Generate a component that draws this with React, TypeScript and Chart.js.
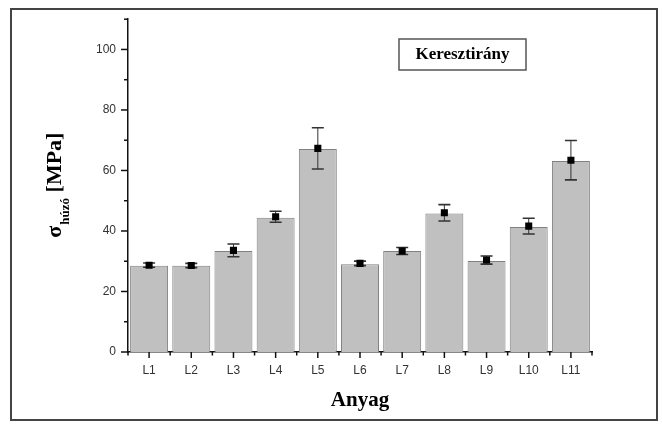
import React, { useEffect, useRef } from 'react';
import { Chart, registerables } from 'chart.js';

Chart.register(...registerables);

const categories = ['L1', 'L2', 'L3', 'L4', 'L5', 'L6', 'L7', 'L8', 'L9', 'L10', 'L11'];
const barValues = [28.5, 28.5, 33.4, 44.4, 67.1, 29.0, 33.4, 45.8, 30.1, 41.3, 63.1];
const meanValues = [28.7, 28.6, 33.6, 44.7, 67.3, 29.3, 33.4, 46.0, 30.4, 41.6, 63.4];
const errorValues = [0.7, 0.7, 2.1, 1.8, 6.8, 0.75, 1.15, 2.7, 1.35, 2.6, 6.5];
const yTickLabels = ['0', '20', '40', '60', '80', '100'];
const legendText = 'Keresztirány';
const xTitle = 'Anyag';
const yTitleMain = 'σ';
const yTitleSub = 'húzó';
const yTitleUnit = ' [MPa]';

const SERIF = '"Liberation Serif", "Times New Roman", serif';
const SANS = '"Liberation Sans", Arial, sans-serif';

const decorPlugin = {
  id: 'decor',
  beforeDraw(chart: any) {
    const ctx = chart.ctx;
    ctx.save();
    ctx.fillStyle = '#ffffff';
    ctx.fillRect(0, 0, chart.width, chart.height);
    ctx.strokeStyle = '#444444';
    ctx.lineWidth = 2;
    ctx.strokeRect(11, 9, 646, 411);
    ctx.restore();
  },
  afterDatasetDraw(chart: any, args: any) {
    if (args.index !== 0) return;
    const ctx = chart.ctx;
    const xs = chart.scales.x;
    const ys = chart.scales.y;
    ctx.save();
    for (let i = 0; i < categories.length; i++) {
      const cx = xs.getPixelForValue(i);
      const yHi = ys.getPixelForValue(meanValues[i] + errorValues[i]);
      const yLo = ys.getPixelForValue(meanValues[i] - errorValues[i]);
      ctx.strokeStyle = '#333333';
      ctx.lineWidth = 1;
      ctx.beginPath();
      ctx.moveTo(cx, yHi);
      ctx.lineTo(cx, yLo);
      ctx.stroke();
      ctx.lineWidth = 1.6;
      ctx.beginPath();
      ctx.moveTo(cx - 6, yHi);
      ctx.lineTo(cx + 6, yHi);
      ctx.moveTo(cx - 6, yLo);
      ctx.lineTo(cx + 6, yLo);
      ctx.stroke();
    }
    ctx.restore();
  },
  afterDraw(chart: any) {
    const ctx = chart.ctx;
    const xs = chart.scales.x;
    const ys = chart.scales.y;
    const area = chart.chartArea;
    ctx.save();
    ctx.strokeStyle = '#111111';
    ctx.lineWidth = 1.5;
    // y ticks
    for (let v = 0; v <= 110; v += 10) {
      const y = ys.getPixelForValue(v);
      const len = v % 20 === 0 ? 7 : 4;
      ctx.beginPath();
      ctx.moveTo(area.left - len, y);
      ctx.lineTo(area.left, y);
      ctx.stroke();
    }
    // x ticks
    for (let i = 0; i < categories.length; i++) {
      const cx = xs.getPixelForValue(i);
      ctx.beginPath();
      ctx.moveTo(cx, area.bottom);
      ctx.lineTo(cx, area.bottom + 6);
      ctx.stroke();
    }
    for (let i = 0; i <= categories.length; i++) {
      const bx = xs.getPixelForValue(i - 0.5);
      ctx.beginPath();
      ctx.moveTo(bx, area.bottom);
      ctx.lineTo(bx, area.bottom + 3.5);
      ctx.stroke();
    }
    // x title
    ctx.fillStyle = '#000000';
    ctx.font = 'bold 21px ' + SERIF;
    ctx.textAlign = 'center';
    ctx.textBaseline = 'alphabetic';
    ctx.fillText(xTitle, (area.left + area.right) / 2, 406);
    // y title
    ctx.save();
    ctx.translate(61, (area.top + area.bottom) / 2);
    ctx.rotate(-Math.PI / 2);
    ctx.textAlign = 'left';
    ctx.font = 'bold 22px ' + SERIF;
    const w1 = ctx.measureText(yTitleMain).width;
    const w3 = ctx.measureText(yTitleUnit).width;
    ctx.font = 'bold 13px ' + SERIF;
    const w2 = ctx.measureText(yTitleSub).width;
    const start = -(w1 + w2 + w3) / 2;
    ctx.font = 'bold 22px ' + SERIF;
    ctx.fillText(yTitleMain, start, 0);
    ctx.font = 'bold 13px ' + SERIF;
    ctx.fillText(yTitleSub, start + w1 + 1, 8);
    ctx.font = 'bold 22px ' + SERIF;
    ctx.fillText(yTitleUnit, start + w1 + w2 + 1, 0);
    ctx.restore();
    // legend box
    ctx.strokeStyle = '#555555';
    ctx.lineWidth = 1.5;
    ctx.strokeRect(399, 39, 127, 31);
    ctx.fillStyle = '#000000';
    ctx.font = 'bold 17px ' + SERIF;
    ctx.textAlign = 'center';
    ctx.textBaseline = 'middle';
    ctx.fillText(legendText, 462.5, 55);
    ctx.restore();
  },
};

export default function App() {
  const canvasRef = useRef<HTMLCanvasElement | null>(null);

  useEffect(() => {
    if (!canvasRef.current) return;
    const chart = new Chart(canvasRef.current, {
      type: 'bar',
      data: {
        labels: categories,
        datasets: [
          {
            type: 'bar',
            data: barValues,
            backgroundColor: '#c0c0c0',
            borderColor: '#808080',
            borderWidth: 1,
            barPercentage: 0.9,
            categoryPercentage: 1,
            order: 2,
          } as any,
          {
            type: 'line',
            data: meanValues,
            showLine: false,
            pointStyle: 'rect',
            pointRadius: 5,
            pointHoverRadius: 5,
            backgroundColor: '#000000',
            borderColor: '#000000',
            borderWidth: 0,
            order: 1,
          } as any,
        ],
      },
      options: {
        responsive: false,
        animation: false,
        events: [],
        layout: { padding: { left: 0, top: 19, right: 70, bottom: 0 } },
        plugins: { legend: { display: false }, tooltip: { enabled: false } },
        scales: {
          x: {
            grid: { display: false, drawTicks: false },
            border: { display: true, color: '#111111', width: 1.5 },
            ticks: { color: '#333333', font: { family: SANS, size: 12 }, padding: 11 },
            afterFit: (scale: any) => {
              scale.height = 429 - 352;
            },
          },
          y: {
            min: 0,
            max: 110,
            grid: { display: false, drawTicks: false },
            border: { display: true, color: '#111111', width: 1.5 },
            ticks: {
              stepSize: 20,
              includeBounds: false,
              color: '#333333',
              font: { family: SANS, size: 12 },
              padding: 12,
              callback: (_v: any, i: number) => yTickLabels[i] ?? '',
            },
            afterFit: (scale: any) => {
              scale.width = 128;
            },
          },
        },
      },
      plugins: [decorPlugin],
    } as any);
    return () => chart.destroy();
  }, []);

  return (
    <div style={{ position: 'absolute', left: 0, top: 0, width: 662, height: 429 }}>
      <canvas ref={canvasRef} width={662} height={429} />
    </div>
  );
}
